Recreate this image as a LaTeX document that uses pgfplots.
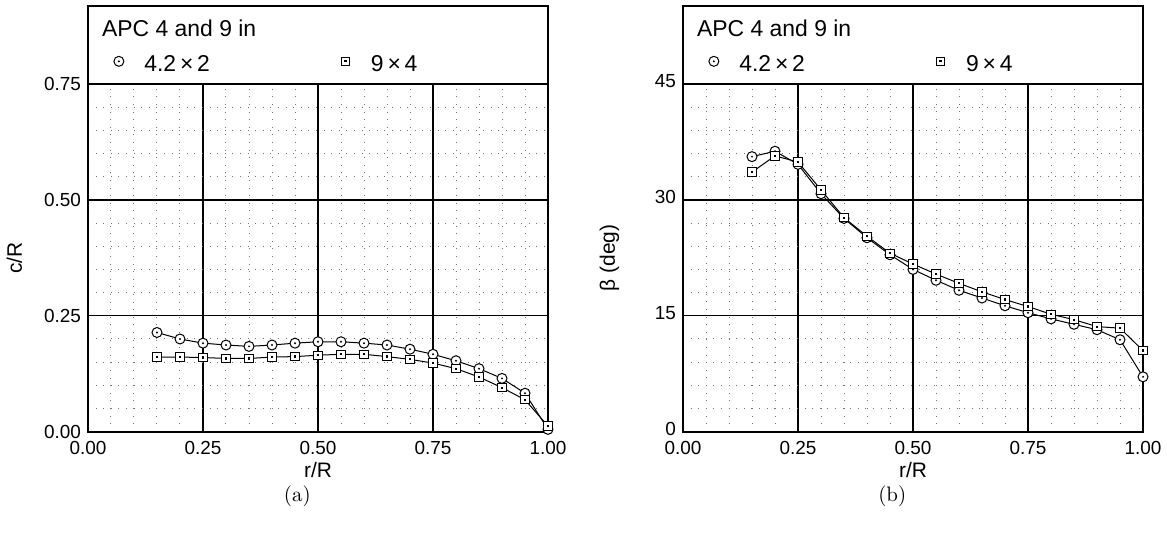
\documentclass[border=0pt]{standalone}
\usepackage{fontspec}
\setmainfont{Liberation Sans}
\newfontfamily\lmr{Latin Modern Roman}
\usepackage{pgfplots}
\pgfplotsset{compat=1.18}

\pgfdeclareplotmark{codot}{%
  \pgfsetfillcolor{white}%
  \pgfpathcircle{\pgfpointorigin}{\pgfplotmarksize}%
  \pgfusepathqfillstroke
  \pgfsetfillcolor{black}%
  \pgfpathcircle{\pgfpointorigin}{0.55bp}%
  \pgfusepathqfill}
\pgfdeclareplotmark{sqdot}{%
  \pgfsetfillcolor{white}%
  \pgfpathrectangle{\pgfpoint{-\pgfplotmarksize}{-\pgfplotmarksize}}{\pgfpoint{2\pgfplotmarksize}{2\pgfplotmarksize}}%
  \pgfusepathqfillstroke
  \pgfsetfillcolor{black}%
  \pgfpathrectangle{\pgfpoint{-0.55bp}{-0.55bp}}{\pgfpoint{1.1bp}{1.1bp}}%
  \pgfusepathqfill}

\pgfplotsset{
  myax/.style={
    scale only axis, width=230bp, height=173.85bp,
    xmin=0, xmax=1, xtick={0,0.25,0.5,0.75,1}, minor x tick num=4, minor y tick num=4,
    grid=both,
    major grid style={black, line width=0.6bp},
    minor grid style={black!55, line width=0.5bp, dash pattern=on 0.5bp off 3.3bp},
    axis line style={line width=1bp},
    tick style={draw=none},
    ticklabel style={font=\fontsize{9.5}{11}\selectfont},
    /pgf/number format/assume math mode=true,
    xticklabel style={yshift=-1.2bp, /pgf/number format/.cd, fixed, fixed zerofill, precision=2},
    every axis x label/.style={at={(axis description cs:0.5,-0.11)}, anchor=center, font=\fontsize{10.5}{12}\selectfont},
    every axis y label/.style={at={(axis description cs:-0.16,0.5)}, anchor=center, rotate=90, font=\fontsize{10.5}{12}\selectfont},
    clip=false,
    legend style={at={(axis description cs:0.0543,1.0552)}, anchor=west, draw=none, fill=none,
      inner sep=0pt, column sep=0pt, nodes={inner sep=0pt, anchor=base west},
      font=\fontsize{11.5}{13}\selectfont,
      /tikz/column 2/.style={column sep=65bp}},
    legend columns=2,
    legend image code/.code={\path (-2.5bp,0bp) (12.5bp,0bp); \draw[##1] plot coordinates {(0bp,5bp)};},
  },
  lineA/.style={black, line width=0.5bp, mark=codot, mark size=2.5bp},
  lineB/.style={black, line width=0.5bp, mark=sqdot, mark size=2.1bp},
}

\begin{document}
\begin{tikzpicture}
\useasboundingbox (-44bp,-51.65bp) rectangle (539.5bp,215.85bp);
\begin{axis}[myax, ymin=0, ymax=0.75, ytick={0,0.25,0.5,0.75},
  yticklabel style={/pgf/number format/.cd, fixed, fixed zerofill, precision=2},
  xlabel={r/R}, ylabel={c/R}]
\addplot[lineA] coordinates {(0.15,0.214)(0.20,0.200)(0.25,0.191)(0.30,0.187)(0.35,0.184)(0.40,0.187)(0.45,0.191)(0.50,0.194)(0.55,0.194)(0.60,0.191)(0.65,0.187)(0.70,0.178)(0.75,0.167)(0.80,0.153)(0.85,0.136)(0.90,0.115)(0.95,0.083)(1.00,0.005)};
\addlegendentry{4.2\,×\,2}
\addplot[lineB] coordinates {(0.15,0.161)(0.20,0.161)(0.25,0.160)(0.30,0.158)(0.35,0.158)(0.40,0.161)(0.45,0.162)(0.50,0.165)(0.55,0.167)(0.60,0.167)(0.65,0.162)(0.70,0.156)(0.75,0.148)(0.80,0.136)(0.85,0.118)(0.90,0.095)(0.95,0.069)(1.00,0.012)};
\addlegendentry{9\,×\,4}
\draw[line width=0.8bp] (axis description cs:0,1) rectangle (axis description cs:1,1.2243);
\node[anchor=base west, inner sep=0pt, font=\fontsize{11.5}{13}\selectfont] at (axis description cs:0.0298,1.136) {APC 4 and 9 in};
\node[anchor=center, font=\lmr\fontsize{10.5}{12}\selectfont] at (axis description cs:0.455,-0.185) {(a)};
\end{axis}
\begin{axis}[myax, at={(297.5bp,0bp)}, ymin=0, ymax=45, ytick={0,15,30,45},
  yticklabel style={yshift=1.5bp},
  xlabel={r/R}, ylabel={β (deg)}]
\addplot[lineA] coordinates {(0.15,35.6)(0.20,36.3)(0.25,34.6)(0.30,30.8)(0.35,27.6)(0.40,25.1)(0.45,22.9)(0.50,21.0)(0.55,19.6)(0.60,18.3)(0.65,17.3)(0.70,16.3)(0.75,15.4)(0.80,14.6)(0.85,13.9)(0.90,13.2)(0.95,11.9)(1.00,7.1)};
\addlegendentry{4.2\,×\,2}
\addplot[lineB] coordinates {(0.15,33.6)(0.20,35.7)(0.25,34.9)(0.30,31.3)(0.35,27.7)(0.40,25.3)(0.45,23.1)(0.50,21.7)(0.55,20.4)(0.60,19.2)(0.65,18.1)(0.70,17.1)(0.75,16.2)(0.80,15.2)(0.85,14.5)(0.90,13.6)(0.95,13.4)(1.00,10.5)};
\addlegendentry{9\,×\,4}
\draw[line width=0.8bp] (axis description cs:0,1) rectangle (axis description cs:1,1.2243);
\node[anchor=base west, inner sep=0pt, font=\fontsize{11.5}{13}\selectfont] at (axis description cs:0.0298,1.136) {APC 4 and 9 in};
\node[anchor=center, font=\lmr\fontsize{10.5}{12}\selectfont] at (axis description cs:0.455,-0.185) {(b)};
\end{axis}
\end{tikzpicture}
\end{document}
